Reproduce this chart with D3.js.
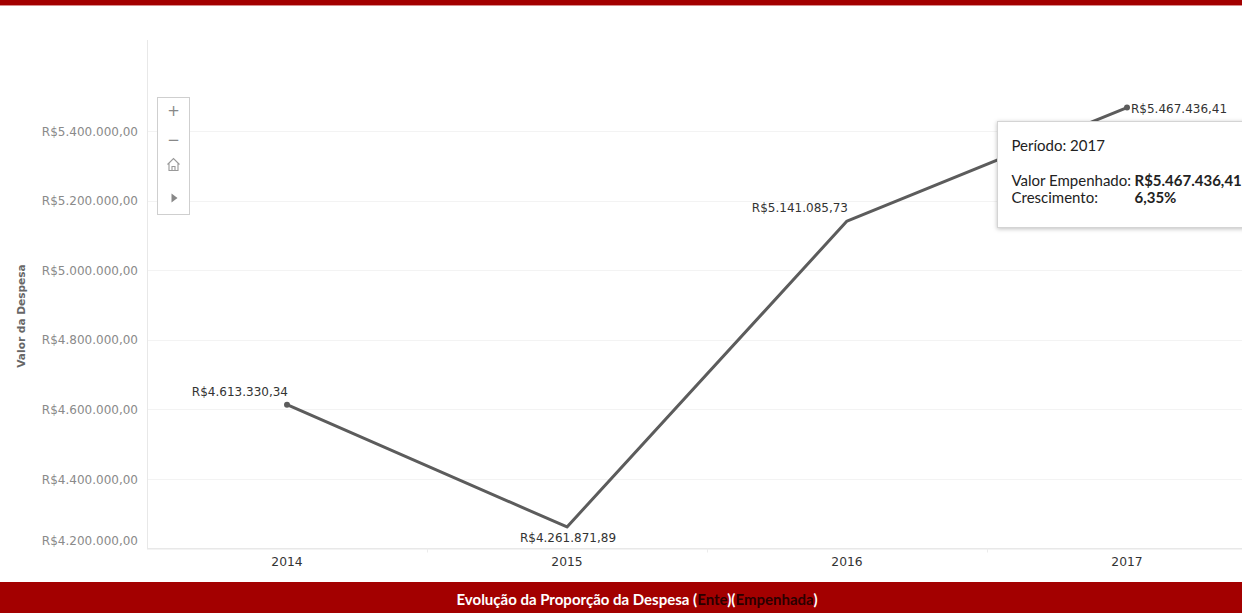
<!DOCTYPE html>
<html>
<head>
<meta charset="utf-8">
<script src="https://cdn.jsdelivr.net/npm/d3@7"></script>
<style>
  html, body { margin: 0; padding: 0; background: #fff; }
  svg { display: block; }
</style>
</head>
<body>
<svg id="chart" width="1242" height="613"></svg>
<script>
// Despesa empenhada por ano
const years = ["2014", "2015", "2016", "2017"];
const values = [4613330.34, 4261871.89, 5141085.73, 5467436.41];
const labelText = ["R$4.613.330,34", "R$4.261.871,89", "R$5.141.085,73", "R$5.467.436,41"];
const yTicks = [4200000, 4400000, 4600000, 4800000, 5000000, 5200000, 5400000];
const tipLines = ["Período: 2017", "Valor Empenhado:", "Crescimento:"];
const tipValues = ["R$5.467.436,41", "6,35%"];

const W = 1242, H = 613;
const svg = d3.select("#chart");
const red = "#a30000";

const plot = { left: 147, top: 40, bottom: 548.5 };

const x = d3.scaleBand().domain(years).range([plot.left, plot.left + 280 * years.length]);
const y = d3.scaleLinear().domain([4200000, 5400000]).range([plot.bottom, 131]);

const brl = v => "R$" + d3.format(",.2f")(v).replace(/,/g, "#").replace(/\./g, ",").replace(/#/g, ".");

// top and bottom bands
svg.append("rect").attr("x", 0).attr("y", 0).attr("width", W).attr("height", 5).attr("fill", red);
svg.append("rect").attr("x", 0).attr("y", 5).attr("width", W).attr("height", 1).attr("fill", "#d98c8c");
svg.append("rect").attr("x", 0).attr("y", 582).attr("width", W).attr("height", H - 582).attr("fill", red);

const title = svg.append("text")
  .attr("x", 637).attr("y", 605)
  .attr("text-anchor", "middle")
  .attr("font-family", "Lato, 'Open Sans', sans-serif")
  .attr("font-size", 15)
  .attr("font-weight", 700)
  .attr("fill", "#ffffff");
title.append("tspan").text("Evolução da Proporção da Despesa (");
title.append("tspan").attr("fill", "#2a0000").text("Ente");
title.append("tspan").text(")(");
title.append("tspan").attr("fill", "#2a0000").text("Empenhada");
title.append("tspan").text(")");

// horizontal gridlines
svg.append("g").selectAll("line").data(yTicks).join("line")
  .attr("x1", plot.left).attr("x2", W)
  .attr("y1", d => Math.round(y(d)) + 0.5).attr("y2", d => Math.round(y(d)) + 0.5)
  .attr("stroke", "#f3f3f3").attr("stroke-width", 1);

// axis frame lines
svg.append("line").attr("x1", plot.left + 0.5).attr("x2", plot.left + 0.5)
  .attr("y1", plot.top).attr("y2", plot.bottom).attr("stroke", "#e8e8e8");
svg.append("line").attr("x1", plot.left).attr("x2", W)
  .attr("y1", plot.bottom).attr("y2", plot.bottom).attr("stroke", "#e8e8e8");

// band separators below the axis
svg.append("g").selectAll("line").data(years.slice(1)).join("line")
  .attr("x1", d => x(d) + 0.5).attr("x2", d => x(d) + 0.5)
  .attr("y1", plot.bottom).attr("y2", plot.bottom + 4)
  .attr("stroke", "#ececec");

// y axis tick labels
const yAxis = d3.axisLeft(y).tickValues(yTicks).tickSize(0).tickPadding(9).tickFormat(brl);
const gy = svg.append("g").attr("transform", `translate(${plot.left},0)`).call(yAxis);
gy.select(".domain").remove();
gy.selectAll("text")
  .attr("font-family", "'DejaVu Sans', sans-serif")
  .attr("font-size", 12)
  .attr("fill", "#8a8a8a")
  .attr("dy", "0.35em")
  .attr("y", d => Math.min(y(d), plot.bottom - 8) - y(d));

// x axis labels
const xAxis = d3.axisBottom(x).tickSize(0).tickPadding(9);
const gx = svg.append("g").attr("transform", `translate(0,${plot.bottom})`).call(xAxis);
gx.select(".domain").remove();
gx.selectAll("text")
  .attr("font-family", "'DejaVu Sans', sans-serif")
  .attr("font-size", 12.3)
  .attr("fill", "#333");

// y axis title
svg.append("text")
  .attr("transform", "translate(25,316) rotate(-90)")
  .attr("text-anchor", "middle")
  .attr("font-family", "'DejaVu Sans', sans-serif")
  .attr("font-size", 10.6)
  .attr("font-weight", 700)
  .attr("fill", "#666")
  .text("Valor da Despesa");

// line
const pts = years.map((k, i) => ({ year: k, value: values[i], label: labelText[i] }));
const cx = d => x(d.year) + x.bandwidth() / 2;
const line = d3.line().x(cx).y(d => y(d.value));

svg.append("path").datum(pts)
  .attr("d", line)
  .attr("fill", "none")
  .attr("stroke", "#5c5c5c")
  .attr("stroke-width", 3)
  .attr("stroke-linejoin", "round");

svg.append("g").selectAll("circle").data([pts[0], pts[pts.length - 1]]).join("circle")
  .attr("cx", cx).attr("cy", d => y(d.value)).attr("r", 3)
  .attr("fill", "#5c5c5c");

// value labels
const place = [
  { anchor: "end", dx: 1, dy: -13 },
  { anchor: "middle", dx: 1, dy: 11 },
  { anchor: "end", dx: 1, dy: -13 },
  { anchor: "start", dx: 4, dy: 1 }
];
svg.append("g").selectAll("text").data(pts).join("text")
  .attr("x", (d, i) => cx(d) + place[i].dx)
  .attr("y", (d, i) => y(d.value) + place[i].dy)
  .attr("dy", "0.35em")
  .attr("text-anchor", (d, i) => place[i].anchor)
  .attr("font-family", "'DejaVu Sans', sans-serif")
  .attr("font-size", 12)
  .attr("fill", "#333")
  .text(d => d.label);

// zoom controls
const zc = svg.append("g").attr("transform", "translate(157.5,97.5)");
zc.append("rect").attr("width", 32).attr("height", 117)
  .attr("fill", "#fff").attr("stroke", "#cfcfcf");
zc.append("text").attr("x", 16).attr("y", 18).attr("text-anchor", "middle")
  .attr("font-family", "'DejaVu Sans', sans-serif").attr("font-size", 15).attr("fill", "#888").text("+");
zc.append("text").attr("x", 16).attr("y", 47).attr("text-anchor", "middle")
  .attr("font-family", "'DejaVu Sans', sans-serif").attr("font-size", 15).attr("fill", "#888").text("−");
// house icon
zc.append("path")
  .attr("d", "M10,67 L16,61 L22,67 M11.5,66 L11.5,73 L20.5,73 L20.5,66 M14.5,73 L14.5,69 L17.5,69 L17.5,73")
  .attr("fill", "none").attr("stroke", "#999").attr("stroke-width", 1.1);
// play icon
zc.append("path").attr("d", "M14,96 L20,100.5 L14,105 Z").attr("fill", "#888");

// tooltip
const defs = svg.append("defs");
const f = defs.append("filter").attr("id", "tipShadow").attr("x", "-10%").attr("y", "-10%").attr("width", "130%").attr("height", "140%");
f.append("feDropShadow").attr("dx", 0).attr("dy", 1).attr("stdDeviation", 2).attr("flood-color", "#000").attr("flood-opacity", 0.25);

const tip = svg.append("g").attr("transform", "translate(997.5,121.5)");
tip.append("rect").attr("width", 260).attr("height", 106)
  .attr("fill", "#fff").attr("stroke", "#d4d4d4").attr("filter", "url(#tipShadow)");
const tf = { "font-family": "Lato, 'Open Sans', sans-serif", "font-size": 15, "fill": "#222" };
const addText = (tx, ty, s) => {
  const t = tip.append("text").attr("x", tx).attr("y", ty).text(s);
  Object.entries(tf).forEach(([k, v]) => t.attr(k, v));
  return t;
};
addText(14, 29, tipLines[0]);
addText(14, 64, tipLines[1]);
addText(14, 81, tipLines[2]);
addText(137, 64, tipValues[0]).attr("font-weight", 700);
addText(137, 81, tipValues[1]).attr("font-weight", 700);
</script>
</body>
</html>
